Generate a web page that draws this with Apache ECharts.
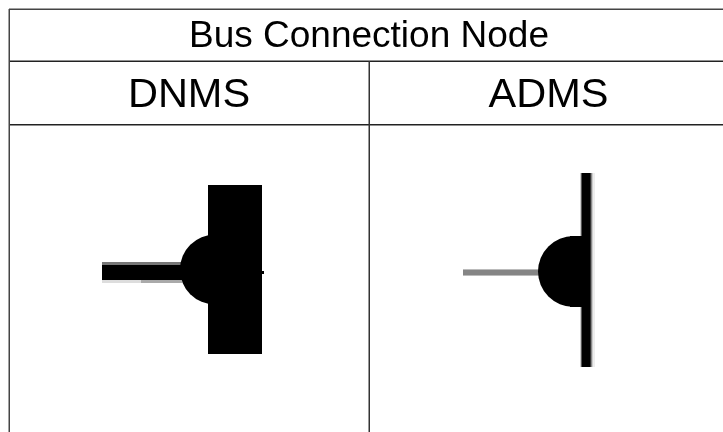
<!DOCTYPE html>
<html>
<head>
<meta charset="utf-8">
<style>html,body{margin:0;padding:0;background:#fff}#c{width:723px;height:432px}</style>
<script src="https://cdn.jsdelivr.net/npm/echarts@6/dist/echarts.min.js"></script>
</head>
<body>
<div id="c"></div>
<script>
// Table rules: [x0, y0, x1, y1, colour]
const tableRules = [
  [9, 8.5, 723, 10, '#444444'],
  [9, 60.5, 723, 62, '#222222'],
  [9, 124, 723, 125.5, '#222222'],
  [8.5, 9, 10, 432, '#444444'],
  [368.5, 61, 370, 432, '#333333']
];
// Node symbol parts: [x0, y0, x1, y1, colour]
const dnmsBlocks = [
  [102, 262, 182, 265, '#777777'],
  [102, 280, 141, 283, '#dddddd'],
  [141, 280, 182, 283, '#aaaaaa'],
  [102, 265, 190, 280, '#000000'],
  [208, 185, 262, 354, '#000000'],
  [262, 271, 264, 274, '#000000']
];
const admsBlocks = [
  [463, 269, 540, 270, '#bbbbbb'],
  [463, 270, 540, 275, '#858585'],
  [463, 275, 540, 276, '#bbbbbb'],
  [580, 173, 581, 367, '#cccccc'],
  [581, 173, 582, 367, '#555555'],
  [582, 173, 590, 367, '#000000'],
  [590, 173, 591, 367, '#333333'],
  [591, 173, 592, 367, '#888888'],
  [592, 173, 593, 367, '#cccccc'],
  [593, 173, 595, 367, '#eeeeee'],
  [570, 236, 583, 307, '#000000']
];
// Half discs: [centre x, centre y, radius]
const halfDiscs = [
  [215, 269.5, 35],
  [573.5, 271.5, 35.5]
];
// Text: [x, y, label, font size]
const titleLabel = [[369, 36.5, 'Bus Connection Node', 37]];
const columnLabels = [
  [189, 96, 'DNMS', 41.5],
  [548.5, 96, 'ADMS', 41.5]
];

function rectItem(params, api) {
  const a = api.coord([api.value(0), api.value(1)]);
  const b = api.coord([api.value(2), api.value(3)]);
  return {
    type: 'rect',
    shape: { x: a[0], y: a[1], width: b[0] - a[0], height: b[1] - a[1] },
    style: { fill: api.value(4) }
  };
}
function discItem(params, api) {
  const c = api.coord([api.value(0), api.value(1)]);
  const r = api.size([api.value(2), 0])[0];
  return {
    type: 'sector',
    shape: { cx: c[0], cy: c[1], r0: 0, r: r, startAngle: Math.PI / 2, endAngle: Math.PI * 1.5, clockwise: true },
    style: { fill: '#000000' }
  };
}
function rectSeries(rows) {
  return {
    type: 'custom', renderItem: rectItem, data: rows, silent: true, animation: false,
    clip: false, encode: { x: [0, 2], y: [1, 3] },
    dimensions: ['x0', 'y0', 'x1', 'y1', { name: 'colour', type: 'ordinal' }]
  };
}
function textSeries(rows) {
  return {
    type: 'scatter', symbolSize: 0, silent: true, animation: false, data: rows,
    itemStyle: { opacity: 1 },
    label: {
      show: true, position: 'inside', color: '#000000', opacity: 1,
      textBorderWidth: 0, textBorderColor: 'transparent',
      fontFamily: '"Liberation Sans", Arial, sans-serif',
      formatter: p => p.data[2],
      fontSize: rows[0][3]
    }
  };
}
const chart = echarts.init(document.getElementById('c'), null, { renderer: 'canvas' });
chart.setOption({
  backgroundColor: '#ffffff',
  animation: false,
  tooltip: { show: false },
  grid: { left: 0, right: 0, top: 0, bottom: 0 },
  xAxis: { type: 'value', min: 0, max: 723, show: false },
  yAxis: { type: 'value', min: 0, max: 432, inverse: true, show: false },
  series: [
    rectSeries(tableRules),
    rectSeries(dnmsBlocks),
    rectSeries(admsBlocks),
    {
      type: 'custom', renderItem: discItem, data: halfDiscs, silent: true, animation: false,
      clip: false, encode: { x: 0, y: 1 }
    },
    textSeries(titleLabel),
    textSeries(columnLabels)
  ]
});
</script>
</body>
</html>
